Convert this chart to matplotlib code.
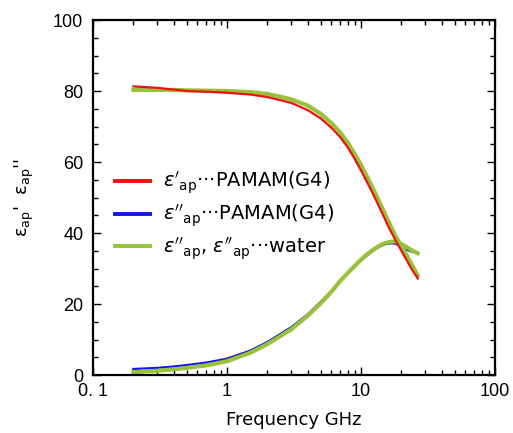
import matplotlib
matplotlib.use("Agg")
import matplotlib.pyplot as plt
from matplotlib.ticker import FixedLocator, FixedFormatter, LogLocator, MultipleLocator

# frequency points (GHz)
freq = [0.2, 0.3, 0.4, 0.5, 0.7, 1.0, 1.5, 2.0, 3.0, 4.0, 5.0, 6.0, 7.0, 8.0, 9.0,
        10.0, 11.0, 12.0, 13.0, 14.0, 15.0, 16.0, 17.0, 18.0, 19.0, 20.0, 22.0, 24.0, 26.5]

# eps' PAMAM(G4)
eps1_pamam = [81.3, 80.9, 80.4, 80.0, 79.8, 79.5, 79.0, 78.3, 76.7, 74.6, 72.3, 69.7, 67.0, 64.0, 60.8,
              57.6, 54.6, 51.8, 49.1, 46.5, 44.1, 41.8, 39.9, 38.1, 36.5, 35.0, 32.2, 29.7, 27.2]
# eps'' PAMAM(G4)
eps2_pamam = [1.7, 2.0, 2.4, 2.8, 3.5, 4.6, 6.9, 9.3, 13.4, 17.1, 20.6, 23.6, 26.4, 28.7, 30.6,
              32.3, 33.6, 34.7, 35.6, 36.3, 36.8, 37.0, 37.1, 37.0, 36.6, 36.2, 35.3, 34.7, 34.4]
# water
eps1_water = [80.3, 80.3, 80.3, 80.2, 80.1, 80.0, 79.7, 79.2, 77.7, 75.9, 73.6, 71.0, 68.3, 65.3, 62.2,
              59.1, 56.1, 53.3, 50.6, 48.0, 45.6, 43.3, 41.2, 39.3, 37.8, 36.3, 33.6, 31.0, 28.0]
eps2_water = [0.8, 1.2, 1.6, 2.0, 2.7, 3.9, 6.3, 8.7, 12.8, 16.7, 20.2, 23.4, 26.5, 28.8, 30.8,
              32.5, 33.9, 35.0, 35.9, 36.6, 37.1, 37.4, 37.6, 37.6, 37.3, 36.9, 36.0, 35.1, 34.3]

xticks = [0.1, 1, 10, 100]
xticklabels = ["0. 1", "1", "10", "100"]
yticks = [0, 20, 40, 60, 80, 100]

labels = [r"$\varepsilon'_{\mathrm{ap}}$···PAMAM(G4)",
          r"$\varepsilon''_{\mathrm{ap}}$···PAMAM(G4)",
          r"$\varepsilon''_{\mathrm{ap}}$, $\varepsilon''_{\mathrm{ap}}$···water"]

RED = "#f01010"
BLUE = "#1414e6"
GREEN = "#98c23a"

fig = plt.figure(figsize=(5.13, 4.33), dpi=100)
ax = fig.add_axes([0.1813, 0.1339, 0.7837, 0.8199])

ax.plot(freq, eps1_water, color=GREEN, lw=3.0, zorder=2)
ax.plot(freq, eps1_pamam, color=RED, lw=1.6, zorder=3)
ax.plot(freq, eps2_pamam, color=BLUE, lw=1.6, zorder=1)
ax.plot(freq, eps2_water, color=GREEN, lw=3.0, zorder=2)

h1 = plt.Line2D([], [], color=RED, lw=2.8)
h2 = plt.Line2D([], [], color=BLUE, lw=2.8)
h3 = plt.Line2D([], [], color=GREEN, lw=2.8)

ax.set_xscale("log")
ax.set_xlim(0.1, 100)
ax.set_ylim(0, 100)

ax.xaxis.set_major_locator(FixedLocator(xticks))
ax.xaxis.set_major_formatter(FixedFormatter(xticklabels))
ax.xaxis.set_minor_locator(LogLocator(base=10, subs=range(2, 10)))
ax.xaxis.set_minor_formatter(FixedFormatter([]))
ax.yaxis.set_major_locator(FixedLocator(yticks))
ax.yaxis.set_minor_locator(MultipleLocator(5))

for s in ax.spines.values():
    s.set_linewidth(1.6)

ax.tick_params(which="both", direction="in", top=True, right=True, width=1.0)
ax.tick_params(which="major", length=5.5, labelsize=13)
ax.tick_params(axis="x", which="major", pad=6)
ax.tick_params(axis="y", which="major", pad=7)
ax.tick_params(which="minor", length=3.5)
for t in ax.get_xticklabels() + ax.get_yticklabels():
    t.set_fontfamily("Liberation Sans")

ax.set_xlabel("Frequency GHz", fontsize=13, labelpad=8)
ax.set_ylabel(r"$\mathrm{\varepsilon}_{\mathrm{ap}}$'  $\mathrm{\varepsilon}_{\mathrm{ap}}$''",
              fontsize=13, labelpad=12)

ax.legend([h1, h2, h3], labels, loc="upper left", bbox_to_anchor=(0.035, 0.6),
          frameon=False, fontsize=14, handlelength=1.8, handletextpad=0.7,
          labelspacing=0.32, borderaxespad=0)

fig.savefig("out.png", dpi=100)
print("saved out.png")
